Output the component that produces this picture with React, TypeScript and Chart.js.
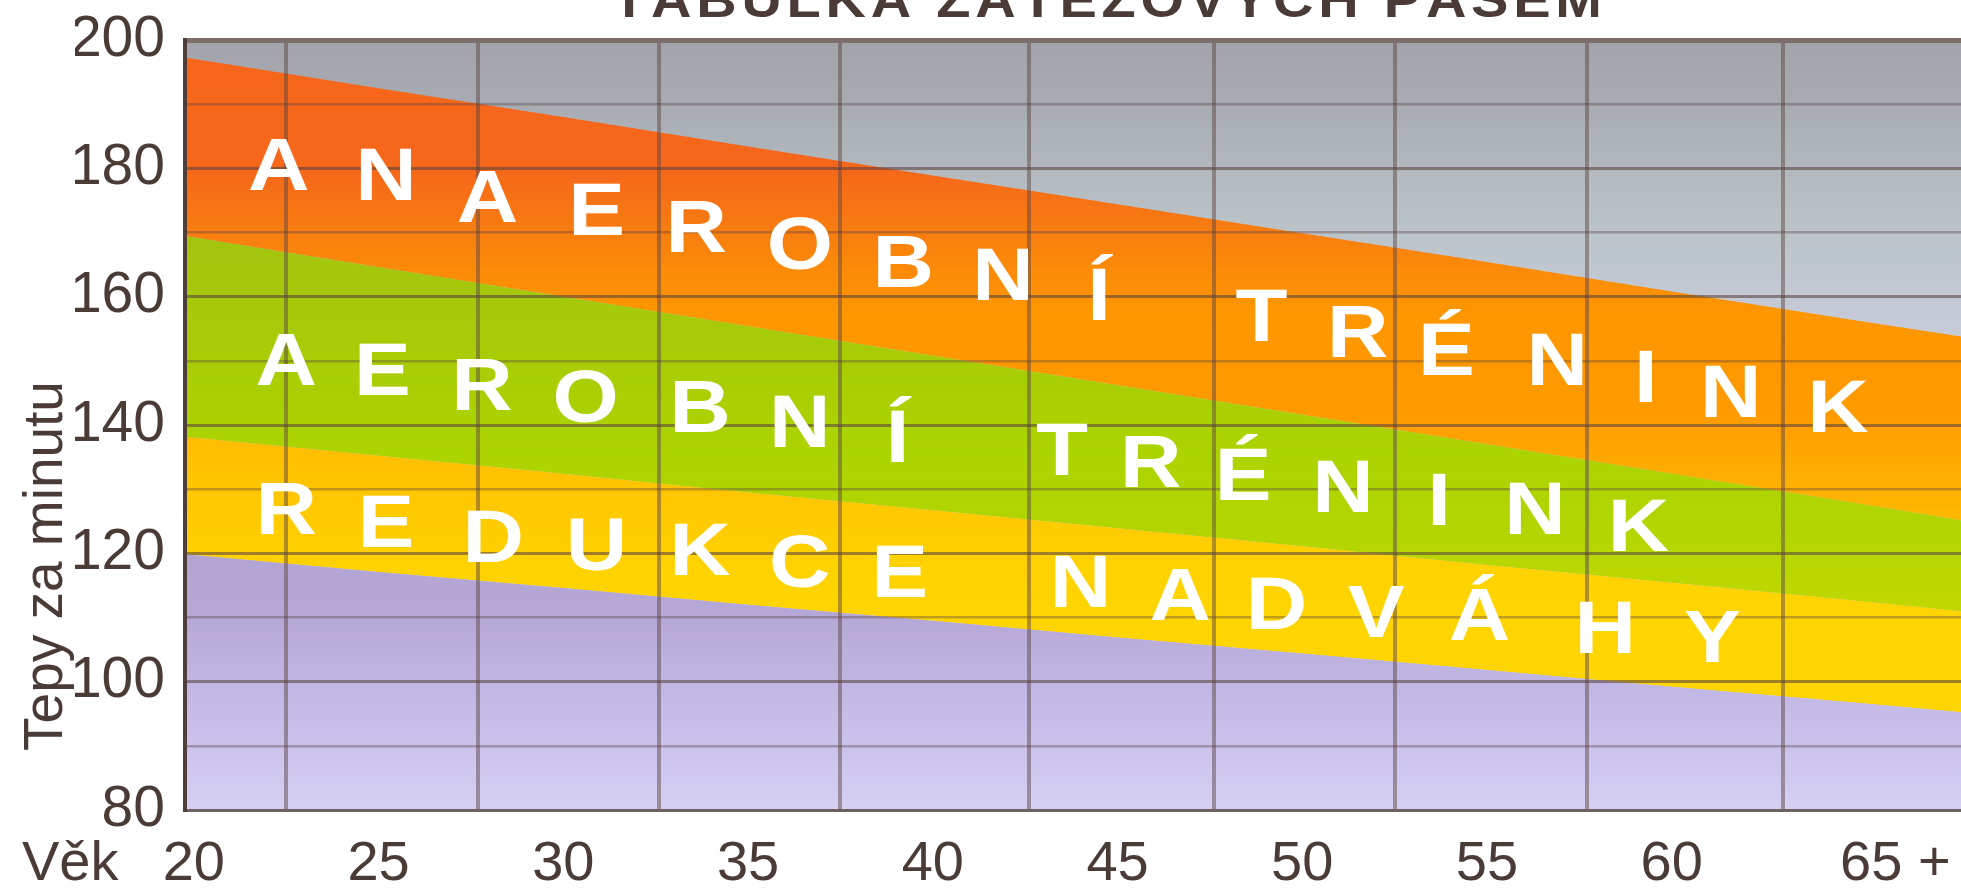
import React, { useEffect, useRef } from "react";
import { Chart, registerables } from "chart.js";

Chart.register(...registerables);

// ---- data ----
const ages = [19.5, 25, 30, 35, 40, 45, 50, 55, 60, 65, 68.5];
const maxHeartRate = [197.5, 192.5, 188.0, 183.4, 178.9, 174.4, 169.9, 165.4, 160.8, 156.3, 153.2];
const anaerobicLow = [169.7, 164.6, 160.0, 155.4, 150.8, 146.2, 141.6, 137.0, 132.4, 127.8, 124.5];
const aerobicLow = [138.3, 135.2, 132.4, 129.5, 126.7, 123.9, 121.1, 118.2, 115.4, 112.6, 110.6];
const reductionLow = [120.0, 117.1, 114.6, 112.0, 109.5, 106.9, 104.4, 101.8, 99.2, 96.7, 94.9];

const xTickValues = [20, 25, 30, 35, 40, 45, 50, 55, 60, 65];
const xTickLabels = ["20", "25", "30", "35", "40", "45", "50", "55", "60", "     65 +"];
const xGridValues = [22.5, 27.7, 32.6, 37.5, 42.6, 47.6, 52.5, 57.7, 63.0];
const yTickValues = [80, 90, 100, 110, 120, 130, 140, 150, 160, 170, 180, 190, 200];
const yTickLabels = ["80", "", "100", "", "120", "", "140", "", "160", "", "180", "", "200"];

const chartTitle = "TABULKA ZÁTĚŽOVÝCH PÁSEM";
const yAxisTitle = "Tepy za minutu";
const xAxisTitle = "Věk";

const anaerobicLetters = ["A", "N", "A", "E", "R", "O", "B", "N", "Í", "T", "R", "É", "N", "I", "N", "K"];
const anaerobicAges = [22.3, 25.2, 27.95, 30.9, 33.6, 36.4, 39.2, 41.9, 44.5, 48.9, 51.5, 53.9, 56.9, 59.3, 61.6, 64.5];
const anaerobicBpm = [180.1, 178.6, 175.1, 173.1, 170.4, 167.7, 164.9, 163.0, 159.9, 156.6, 154.0, 151.3, 149.7, 147.0, 144.7, 142.3];

const aerobicLetters = ["A", "E", "R", "O", "B", "N", "Í", "T", "R", "É", "N", "I", "N", "K"];
const aerobicAges = [22.5, 25.1, 27.8, 30.6, 33.7, 36.4, 39.05, 43.5, 45.9, 48.4, 51.1, 53.7, 56.3, 59.1];
const aerobicBpm = [149.7, 148.2, 145.8, 143.9, 142.3, 140.0, 137.7, 135.7, 133.8, 131.8, 129.9, 127.9, 126.4, 123.8];

const reductionLetters = ["R", "E", "D", "U", "K", "C", "E", "N", "A", "D", "V", "Á", "H", "Y"];
const reductionAges = [22.5, 25.2, 28.1, 30.9, 33.7, 36.4, 39.1, 44.0, 46.7, 49.3, 52.0, 54.8, 58.2, 61.1];
const reductionBpm = [126.4, 124.4, 122.1, 120.9, 120.1, 118.2, 116.6, 115.1, 113.1, 111.7, 110.4, 110.0, 107.9, 106.5];

// ---- styles ----
const FONT = '"Liberation Sans", Arial, Helvetica, sans-serif';
const TEXT = "#4b3b36";

const grayStops: [number, string][] = [
  [200, "#a3a3ab"], [190, "#a8abb2"], [180, "#b2b8be"], [170, "#bbc4c9"], [160, "#c3c9d4"], [145, "#c9cede"],
];
const orangeStops: [number, string][] = [
  [200, "#f5661a"], [180, "#f5671a"], [172, "#f77912"], [164, "#fb8b08"], [158, "#fe9600"], [142, "#ff9a00"], [134, "#ffaa00"], [124, "#ffbb00"],
];
const greenStops: [number, string][] = [
  [170, "#a3c40e"], [150, "#a8cd06"], [135, "#acd400"], [124, "#b2d500"], [110, "#c2d800"],
];
const yellowStops: [number, string][] = [
  [138, "#ffbd00"], [128, "#ffc800"], [118, "#ffd200"], [108, "#ffd500"],
];
const purpleStops: [number, string][] = [
  [120, "#b2a5d3"], [110, "#b5a8d6"], [100, "#c1b6e3"], [90, "#cbc2ec"], [80, "#d6d0f3"],
];

function gradientFor(chart: any, stops: [number, string][]) {
  const ys = chart.scales && chart.scales.y;
  if (!chart.chartArea || !ys) return stops[0][1];
  const y0 = ys.getPixelForValue(200);
  const y1 = ys.getPixelForValue(80);
  const g = chart.ctx.createLinearGradient(0, y0, 0, y1);
  stops.forEach(([v, c]) => g.addColorStop(Math.min(1, Math.max(0, (200 - v) / 120)), c));
  return g;
}

function band(label: string, values: number[], fill: any, stops: [number, string][]) {
  return {
    label,
    data: ages.map((a, i) => ({ x: a, y: values[i] })),
    fill,
    borderWidth: 0,
    borderColor: "rgba(0,0,0,0)",
    pointRadius: 0,
    tension: 0,
    backgroundColor: (ctx: any) => gradientFor(ctx.chart, stops),
  };
}

const decorPlugin = {
  id: "decor",
  beforeDraw(chart: any) {
    const { ctx, chartArea: a } = chart;
    ctx.save();
    ctx.fillStyle = gradientFor(chart, grayStops);
    ctx.fillRect(a.left, a.top, a.right - a.left, a.bottom - a.top);
    ctx.restore();
  },
  afterDraw(chart: any) {
    const { ctx } = chart;
    const xs = chart.scales.x;
    const ys = chart.scales.y;
    ctx.save();

    // band letters (slightly extended, upright)
    const size = 74;
    const stretch = 1.15;
    ctx.font = `bold ${size}px ${FONT}`;
    ctx.fillStyle = "#ffffff";
    ctx.textAlign = "center";
    ctx.textBaseline = "alphabetic";
    const drawLetters = (letters: string[], aa: number[], bb: number[]) => {
      letters.forEach((l, i) => {
        const px = xs.getPixelForValue(aa[i]);
        const py = ys.getPixelForValue(bb[i]) + size * 0.3;
        ctx.save();
        ctx.translate(px, py);
        ctx.scale(stretch, 1);
        ctx.fillText(l, 0, 0);
        ctx.restore();
      });
    };
    drawLetters(anaerobicLetters, anaerobicAges, anaerobicBpm);
    drawLetters(aerobicLetters, aerobicAges, aerobicBpm);
    drawLetters(reductionLetters, reductionAges, reductionBpm);

    // chart title (top partly cut off by the frame)
    ctx.fillStyle = TEXT;
    ctx.font = `bold 50px ${FONT}`;
    ctx.textAlign = "left";
    ctx.textBaseline = "alphabetic";
    const tStretch = 1.12;
    const chars = Array.from(chartTitle);
    const widths = chars.map((c) => ctx.measureText(c).width * tStretch);
    const letterSum = widths.reduce((s, w) => s + w, 0);
    const targetWidth = 990;
    const spacing = (targetWidth - letterSum) / (chars.length - 1);
    let cx = 1107 - targetWidth / 2;
    chars.forEach((c, i) => {
      ctx.save();
      ctx.translate(cx, 17);
      ctx.scale(tStretch, 1);
      ctx.fillText(c, 0, 0);
      ctx.restore();
      cx += widths[i] + spacing;
    });

    // x axis label
    ctx.font = `56px ${FONT}`;
    ctx.textAlign = "left";
    ctx.textBaseline = "middle";
    ctx.fillText(xAxisTitle, 22, 865);

    // y axis title
    ctx.font = `55px ${FONT}`;
    ctx.translate(62, 566);
    ctx.rotate(-Math.PI / 2);
    ctx.textAlign = "center";
    ctx.textBaseline = "alphabetic";
    ctx.fillText(yAxisTitle, 0, 0);
    ctx.restore();
  },
};

export default function App() {
  const canvasRef = useRef<HTMLCanvasElement | null>(null);

  useEffect(() => {
    const canvas = canvasRef.current;
    if (!canvas) return;
    const chart = new Chart(canvas, {
      type: "line",
      data: {
        datasets: [
          band("Redukce nadváhy – spodní hranice", reductionLow, "start", purpleStops),
          band("Aerobní trénink – spodní hranice", aerobicLow, "-1", yellowStops),
          band("Anaerobní trénink – spodní hranice", anaerobicLow, "-1", greenStops),
          band("Maximální tepová frekvence", maxHeartRate, "-1", orangeStops),
        ] as any,
      },
      options: {
        responsive: false,
        animation: false,
        events: [],
        layout: { padding: { left: 75, top: 40, right: 0, bottom: 0 } },
        plugins: {
          legend: { display: false },
          tooltip: { enabled: false },
          title: { display: false },
        },
        scales: {
          x: {
            type: "linear",
            min: 19.76,
            max: 67.83,
            afterBuildTicks: (s: any) => {
              s.ticks = [...xTickValues, ...xGridValues].sort((a, b) => a - b).map((v) => ({ value: v }));
            },
            afterFit: (s: any) => {
              s.height = 81;
            },
            ticks: {
              autoSkip: false,
              maxRotation: 0,
              minRotation: 0,
              padding: 0,
              color: TEXT,
              font: { family: FONT, size: 56, lineHeight: 1.2 },
              callback: (v: any) => {
                const i = xTickValues.indexOf(Number(v));
                return i >= 0 ? xTickLabels[i] : "";
              },
            },
            grid: {
              z: 1,
              drawTicks: true,
              tickLength: 21,
              tickColor: "rgba(0,0,0,0)",
              color: (c: any) =>
                c.tick && xGridValues.includes(c.tick.value) ? "rgba(95,72,70,0.5)" : "rgba(0,0,0,0)",
              lineWidth: 4,
            },
            border: { z: 1, display: true, color: "rgba(135,135,140,0.95)", width: 3 },
          },
          y: {
            type: "linear",
            min: 80,
            max: 200,
            afterBuildTicks: (s: any) => {
              s.ticks = yTickValues.map((v) => ({ value: v }));
            },
            afterFit: (s: any) => {
              s.width = 110;
            },
            ticks: {
              padding: 20,
              color: TEXT,
              font: { family: FONT, size: 57, lineHeight: 0.7 },
              callback: (v: any) => {
                const i = yTickValues.indexOf(Number(v));
                return i >= 0 ? yTickLabels[i] : "";
              },
            },
            grid: {
              z: 1,
              drawTicks: false,
              color: (c: any) => {
                const v = c.tick ? c.tick.value : 0;
                if (v === 200) return "rgba(125,110,108,1)";
                return v % 20 === 0 ? "rgba(90,65,62,0.58)" : "rgba(90,65,62,0.38)";
              },
              lineWidth: (c: any) => {
                const v = c.tick ? c.tick.value : 0;
                if (v === 200) return 5;
                return v % 20 === 0 ? 3 : 2.5;
              },
            },
            border: { z: 1, display: true, color: "#4e3d38", width: 4 },
          },
        },
      },
      plugins: [decorPlugin],
    });
    return () => chart.destroy();
  }, []);

  return (
    <div style={{ position: "absolute", left: 0, top: 0, width: 1961, height: 891, background: "#ffffff" }}>
      <canvas ref={canvasRef} width={1961} height={891} style={{ display: "block" }} />
    </div>
  );
}
